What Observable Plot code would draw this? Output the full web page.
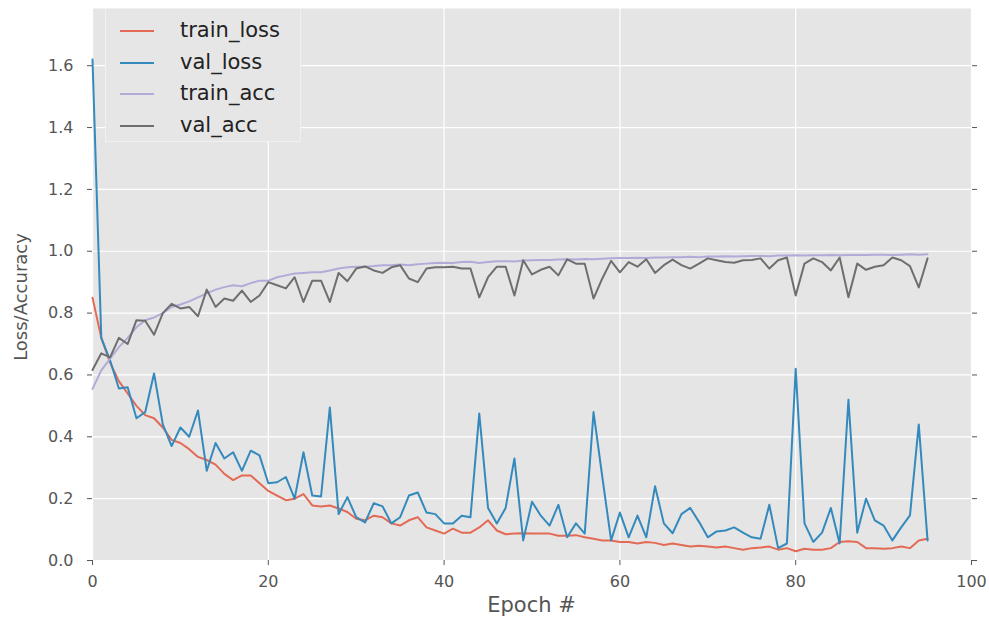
<!DOCTYPE html>
<html>
<head>
<meta charset="utf-8">
<script src="https://cdn.jsdelivr.net/npm/d3@7"></script>
<script src="https://cdn.jsdelivr.net/npm/@observablehq/plot@0.6"></script>
<style>
  body { margin: 0; background: #fff; }
  #wrap { position: relative; width: 989px; height: 621px; font-family: "DejaVu Sans", sans-serif; }
  #legend { position: absolute; left: 105px; top: 8px; width: 196px; height: 134px;
            background: #e6e6e6; border: 1px solid #f0f0f0; box-sizing: border-box; }
  .row { position: absolute; left: 0; height: 30px; width: 100%; }
  .swatch { position: absolute; left: 14px; width: 34px; height: 2px; top: 14px; }
  .lab { position: absolute; left: 74px; top: 1px; font-size: 21px; color: #222; line-height: 26px; }
  #xlabel { position: absolute; left: 92px; width: 879px; top: 593px; text-align: center; font-size: 21px; color: #555; }
  #ylabel { position: absolute; left: 20px; top: 297px; transform: translate(-50%, -50%) rotate(-90deg);
            font-size: 18px; color: #555; white-space: nowrap; }
</style>
</head>
<body>
<div id="wrap"></div>
<script>
const seriesNames = ["train_loss", "val_loss", "train_acc", "val_acc"];
const seriesColors = ["#E36A55", "#348ABD", "#B3AAD8", "#6E6E6E"];
const xTicks = [0, 20, 40, 60, 80, 100];
const yTicks = [0, 0.2, 0.4, 0.6, 0.8, 1.0, 1.2, 1.4, 1.6];

const trainLoss = [
  0.85, 0.72, 0.64, 0.58, 0.54, 0.50, 0.47, 0.46, 0.43, 0.39,
  0.38, 0.36, 0.335, 0.325, 0.31, 0.28, 0.26, 0.275, 0.275, 0.25,
  0.225, 0.21, 0.195, 0.20, 0.215, 0.178, 0.175, 0.178, 0.168, 0.157,
  0.135, 0.13, 0.145, 0.14, 0.12, 0.113, 0.13, 0.14, 0.107, 0.097,
  0.087, 0.103, 0.09, 0.09, 0.107, 0.13, 0.097, 0.085, 0.087, 0.088,
  0.087, 0.087, 0.087, 0.08, 0.08, 0.082, 0.075, 0.07, 0.065, 0.065,
  0.06, 0.06, 0.055, 0.06, 0.057, 0.05, 0.055, 0.05, 0.045, 0.048,
  0.045, 0.042, 0.045, 0.04, 0.035, 0.04, 0.042, 0.045, 0.035, 0.04,
  0.03, 0.038, 0.035, 0.035, 0.04, 0.06, 0.062, 0.06, 0.04, 0.04,
  0.038, 0.04, 0.045, 0.04, 0.065, 0.07
];
const valLoss = [
  1.62, 0.72, 0.647, 0.556, 0.56, 0.46, 0.48, 0.605, 0.44, 0.37,
  0.43, 0.40, 0.485, 0.29, 0.38, 0.33, 0.35, 0.29, 0.355, 0.34,
  0.25, 0.253, 0.27, 0.20, 0.35, 0.21, 0.207, 0.495, 0.15, 0.205,
  0.14, 0.123, 0.185, 0.175, 0.12, 0.14, 0.21, 0.22, 0.155, 0.15,
  0.12, 0.12, 0.145, 0.14, 0.475, 0.17, 0.12, 0.17, 0.33, 0.065,
  0.19, 0.145, 0.113, 0.18, 0.075, 0.12, 0.087, 0.48, 0.27, 0.065,
  0.155, 0.075, 0.145, 0.075, 0.24, 0.12, 0.088, 0.15, 0.17, 0.125,
  0.075, 0.094, 0.097, 0.107, 0.09, 0.075, 0.07, 0.18, 0.04, 0.055,
  0.62, 0.12, 0.06, 0.09, 0.17, 0.055, 0.52, 0.09, 0.20, 0.13,
  0.113, 0.065, 0.107, 0.146, 0.44, 0.065
];
const trainAcc = [
  0.555, 0.615, 0.653, 0.69, 0.72, 0.754, 0.777, 0.786, 0.80, 0.82,
  0.828, 0.838, 0.851, 0.864, 0.876, 0.884, 0.89, 0.887, 0.897, 0.905,
  0.905, 0.916, 0.922, 0.928, 0.93, 0.932, 0.932, 0.938, 0.944, 0.948,
  0.95, 0.95, 0.952, 0.955, 0.955, 0.957, 0.955, 0.958, 0.96, 0.962,
  0.963, 0.962, 0.965, 0.966, 0.962, 0.965, 0.968, 0.968, 0.967, 0.97,
  0.971, 0.972, 0.972, 0.973, 0.974, 0.973, 0.975, 0.974, 0.976, 0.977,
  0.978, 0.978, 0.979, 0.978, 0.98, 0.98, 0.981, 0.981, 0.982, 0.981,
  0.983, 0.983, 0.984, 0.983, 0.984, 0.985, 0.985, 0.984, 0.986, 0.986,
  0.987, 0.986, 0.987, 0.987, 0.988, 0.987, 0.988, 0.988, 0.988, 0.989,
  0.989, 0.988, 0.989, 0.99, 0.989, 0.99
];
const valAcc = [
  0.616, 0.67, 0.657, 0.72, 0.70, 0.777, 0.775, 0.73, 0.80, 0.83,
  0.815, 0.82, 0.79, 0.876, 0.82, 0.847, 0.84, 0.873, 0.836, 0.857,
  0.90, 0.89, 0.88, 0.916, 0.836, 0.905, 0.905, 0.836, 0.93, 0.903,
  0.944, 0.951, 0.938, 0.93, 0.948, 0.955, 0.912, 0.90, 0.944, 0.948,
  0.948, 0.95, 0.944, 0.944, 0.851, 0.916, 0.95, 0.95, 0.857, 0.971,
  0.925, 0.94, 0.95, 0.922, 0.974, 0.96, 0.96, 0.847, 0.912, 0.969,
  0.932, 0.965, 0.95, 0.974, 0.93, 0.955, 0.973, 0.955, 0.944, 0.96,
  0.977, 0.971, 0.965, 0.963, 0.971, 0.972, 0.977, 0.944, 0.971, 0.98,
  0.857, 0.96, 0.977, 0.965, 0.938, 0.98, 0.851, 0.96, 0.94, 0.95,
  0.955, 0.98, 0.971, 0.952, 0.883, 0.977
];

const allSeries = [trainLoss, valLoss, trainAcc, valAcc];
const rows = [];
allSeries.forEach((arr, s) => arr.forEach((v, i) => rows.push({epoch: i, value: v, series: seriesNames[s]})));

const chart = Plot.plot({
  width: 989,
  height: 621,
  marginLeft: 92,
  marginRight: 18,
  marginTop: 8,
  marginBottom: 61,
  style: {fontFamily: "DejaVu Sans, sans-serif", fontSize: "16px", color: "#555", background: "transparent"},
  x: {domain: [0, 100]},
  y: {domain: [0, 1.785]},
  color: {domain: seriesNames, range: seriesColors},
  marks: [
    Plot.frame({fill: "#E5E5E5", stroke: null}),
    Plot.gridX(xTicks, {stroke: "#fff", strokeOpacity: 1, strokeWidth: 1.2}),
    Plot.gridY(yTicks, {stroke: "#fff", strokeOpacity: 1, strokeWidth: 1.2}),
    ...seriesNames.map(name =>
      Plot.line(rows.filter(d => d.series === name),
        {x: "epoch", y: "value", stroke: "series", strokeWidth: 2, strokeLinejoin: "round"})
    ),
    Plot.axisX({ticks: xTicks, tickSize: 5, tickPadding: 10, label: null, fontSize: 16}),
    Plot.axisY({ticks: yTicks, tickSize: 5, tickPadding: 14, tickFormat: d3.format(".1f"), label: null, fontSize: 16}),
    Plot.axisY({anchor: "right", ticks: yTicks, tickSize: 5, tickFormat: () => "", label: null})
  ]
});

const wrap = document.getElementById("wrap");
wrap.appendChild(chart);

const legend = document.createElement("div");
legend.id = "legend";
seriesNames.forEach((name, i) => {
  const row = document.createElement("div");
  row.className = "row";
  row.style.top = (7 + i * 31.5) + "px";
  const sw = document.createElement("div");
  sw.className = "swatch";
  sw.style.background = seriesColors[i];
  const lab = document.createElement("div");
  lab.className = "lab";
  lab.textContent = name;
  row.appendChild(sw);
  row.appendChild(lab);
  legend.appendChild(row);
});
wrap.appendChild(legend);

const xl = document.createElement("div");
xl.id = "xlabel";
xl.textContent = "Epoch #";
wrap.appendChild(xl);

const yl = document.createElement("div");
yl.id = "ylabel";
yl.textContent = "Loss/Accuracy";
wrap.appendChild(yl);
</script>
</body>
</html>
